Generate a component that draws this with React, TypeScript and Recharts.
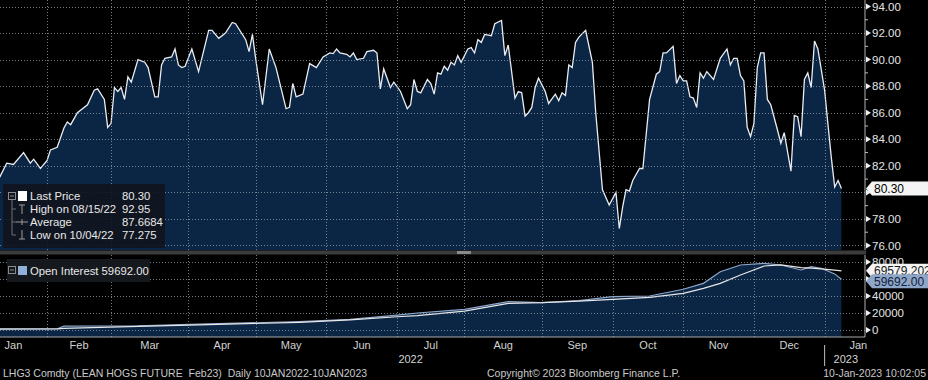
import React from "react";
import { Area, ComposedChart, Line, ReferenceLine, XAxis, YAxis } from "recharts";

const FONT = '"Liberation Sans", Arial, Helvetica, sans-serif';
const W = 928;
const AXIS_W = 63;

// trading-day index (0 = 10 Jan 2022) and LHG3 price
const priceDays = [
  0, 3, 5, 8, 10, 11, 13, 15, 16, 18, 20, 21, 22, 24, 27, 29, 30, 32, 33, 34, 35, 36, 37, 38, 39, 40,
  42, 44, 45, 47, 48, 49, 50, 52, 53, 54, 55, 56, 58, 60, 63, 64, 66, 68, 70, 71, 74, 75, 76, 77, 79,
  81, 83, 86, 87, 88, 89, 91, 93, 95, 97, 99, 100, 101, 102, 104, 105, 106, 107, 109, 110, 112, 113,
  114, 115, 117, 118, 120, 122, 123, 124, 125, 126, 128, 129, 130, 131, 132, 133, 134, 135, 136, 137,
  138, 140, 141, 142, 143, 144, 145, 147, 148, 150, 151, 152, 154, 155, 156, 157, 158, 159, 160, 161,
  163, 164, 166, 167, 168, 169, 170, 171, 172, 173, 175, 177, 178, 180, 182, 184, 185, 186, 187, 188,
  189, 191, 192, 193, 194, 196, 197, 198, 199, 201, 202, 203, 204, 205, 206, 207, 208, 209, 210, 211,
  213, 215, 217, 218, 219, 220, 221, 222, 223, 224, 225, 226, 227, 228, 229, 230, 232, 233, 234, 236,
  237, 238, 239, 240, 241, 242, 243, 244, 246, 247, 248, 249, 250, 251,
];
const priceValues = [
  80.7, 82.2, 82.1, 83.0, 82.2, 82.5, 81.8, 82.4, 83.2, 83.4, 84.85, 85.3, 85.1, 86.0, 86.6, 87.7, 87.8,
  87.0, 84.9, 85.2, 87.9, 87.6, 87.9, 87.0, 88.7, 88.3, 90.0, 89.8, 89.4, 87.2, 87.2, 89.6, 90.1, 90.2,
  90.8, 89.6, 89.4, 89.5, 90.8, 89.1, 92.2, 92.2, 91.6, 92.0, 92.8, 92.7, 91.5, 90.6, 91.9, 90.0, 86.6,
  90.8, 89.4, 86.3, 86.4, 88.2, 87.2, 87.4, 89.7, 89.4, 90.2, 90.5, 90.45, 90.8, 90.5, 90.4, 90.2, 90.5,
  90.0, 90.1, 90.6, 90.7, 90.5, 87.8, 89.3, 87.9, 88.3, 87.6, 86.3, 86.6, 88.5, 87.6, 87.5, 88.5, 88.2,
  87.4, 89.0, 88.9, 89.5, 89.2, 89.8, 89.6, 90.3, 89.8, 90.8, 90.9, 90.5, 91.5, 91.3, 91.9, 91.8, 92.7,
  92.95, 90.3, 91.1, 87.1, 87.6, 87.5, 85.75, 86.0, 86.4, 87.9, 88.6, 87.6, 86.7, 87.4, 86.9, 87.5,
  87.3, 89.6, 89.4, 91.3, 91.7, 92.2, 89.8, 86.0, 80.2, 79.05, 80.0, 77.275, 78.9, 80.2, 80.1, 80.9,
  81.8, 81.8, 84.4, 87.0, 88.9, 89.1, 90.5, 90.5, 91.0, 88.2, 88.8, 88.4, 88.4, 87.2, 87.1, 86.4, 89.0,
  88.6, 89.1, 88.5, 90.1, 90.8, 89.6, 90.1, 90.1, 88.8, 88.4, 84.9, 84.2, 85.2, 89.4, 90.5, 90.5, 87.0,
  86.6, 84.7, 83.7, 84.5, 81.6, 85.8, 85.7, 84.2, 88.5, 89.0, 87.9, 91.4, 90.8, 87.7, 85.1, 82.6, 80.4,
  80.9, 80.3,
];

// open interest and its moving average
const oiDays = [0, 18, 20, 42, 60, 90, 105, 119, 125, 139, 152, 162, 173, 183, 194, 204, 210, 215, 221, 228, 233, 239, 242, 245, 249, 251];
const openInterest = [
  1500, 1500, 4600, 5000, 7000, 9800, 12500, 17600, 20000, 24300, 33300, 32100, 34500, 39200, 40000,
  47900, 54900, 68600, 76500, 78400, 76500, 70600, 74500, 72600, 66000, 59692,
];
const openInterestAvg = [
  1000, 1300, 2000, 4200, 6000, 9000, 11800, 15600, 17000, 22300, 31400, 32100, 34000, 36100, 38400,
  43100, 49000, 54900, 64700, 75300, 76500, 73300, 72800, 72000, 70500, 69579.2021,
];

const monthNames = ["Jan", "Feb", "Mar", "Apr", "May", "Jun", "Jul", "Aug", "Sep", "Oct", "Nov", "Dec", "Jan"];
// first trading day of each month (-5 = 3 Jan 2022, 266 = 1 Feb 2023)
const monthStarts = [-5, 15, 34, 57, 77, 98, 119, 139, 162, 183, 204, 225, 246, 266];
const yearNames = ["2022", "2023"];
const yearAt = [123, 246];

const priceTicks = [76, 77, 78, 79, 80, 81, 82, 83, 84, 85, 86, 87, 88, 89, 90, 91, 92, 93, 94];
const priceGrid = [76, 78, 80, 82, 84, 86, 88, 90, 92, 94];
const oiTicks = [0, 20000, 40000, 60000, 80000];

const lastPrice = 80.3;
const highPrice = 92.95;
const highDate = "08/15/22";
const avgPrice = 87.6684;
const lowPrice = 77.275;
const lowDate = "10/04/22";
const lastOI = 59692;
const lastOIAvg = 69579.2021;

const DAY_DOMAIN = [1, 258];
const PRICE_DOMAIN = [75.66, 94.49];
const OI_DOMAIN = [-8235, 88235];

const priceData = priceDays.map((day, i) => ({ day, price: priceValues[i] }));
const oiData = oiDays.map((day, i) => ({ day, oi: openInterest[i], avg: openInterestAvg[i] }));
const monthMids = monthNames.map((_, i) => (monthStarts[i] + monthStarts[i + 1]) / 2);
const innerMonthStarts = monthStarts.slice(1, -1);

// value flags go last so they sit on top of the tick labels
const priceAxisTicks = [...priceTicks, lastPrice];
const oiAxisTicks = [...oiTicks, lastOIAvg, lastOI];

const NAVY = "#0b2545";

// dotted grid line drawn from the reference line's own viewBox
function GridMark({ viewBox }: any) {
  if (!viewBox) return null;
  const { x, y, width, height } = viewBox;
  const px = Math.round(x) + 0.5;
  const py = Math.round(y) + 0.5;
  const horizontal = !height;
  return (
    <line
      x1={horizontal ? x : px}
      x2={horizontal ? x + width : px}
      y1={horizontal ? py : y}
      y2={horizontal ? py : y + height}
      stroke="#9aa3ad"
      strokeOpacity={0.75}
      strokeWidth={1}
      strokeDasharray="1 2"
    />
  );
}

function gridLines(yValues: number[]) {
  return [
    ...yValues.map((v) => <ReferenceLine key={`h${v}`} y={v} stroke="none" label={<GridMark />} />),
    ...innerMonthStarts.map((d) => <ReferenceLine key={`v${d}`} x={d} stroke="none" label={<GridMark />} />),
  ];
}

function Flag({ x, y, text, fill, color }: any) {
  return (
    <g>
      <polygon points={`${x + 1},${y} ${x + 7},${y - 7} ${W},${y - 7} ${W},${y + 7} ${x + 7},${y + 7}`} fill={fill} />
      <text x={x + 9} y={y} dy="0.36em" fill={color} fontSize={12} fontFamily={FONT}>
        {text}
      </text>
    </g>
  );
}

function MajorTick({ x, y, label }: any) {
  return (
    <g>
      <polygon points={`${x + 1},${y - 3} ${x + 6},${y} ${x + 1},${y + 3}`} fill="#f0f0f0" />
      {label && (
        <text x={x + 7} y={y} dy="0.36em" fill="#e4e4e4" fontSize={11.5} fontFamily={FONT}>
          {label}
        </text>
      )}
    </g>
  );
}

function PriceTick({ x, y, payload }: any) {
  const v = payload.value;
  if (v === lastPrice) return <Flag x={x} y={y} text={lastPrice.toFixed(2)} fill="#f4f4f4" color="#000" />;
  if (v % 2 !== 0) return <line x1={x} x2={x + 3} y1={y} y2={y} stroke="#bdbdbd" />;
  const hidden = Math.abs(v - lastPrice) < 0.75;
  return <MajorTick x={x} y={y} label={hidden ? null : v.toFixed(2)} />;
}

function OiTick({ x, y, payload }: any) {
  const v = payload.value;
  if (v === lastOIAvg) return <Flag x={x} y={y} text={String(lastOIAvg)} fill="#f4f4f4" color="#1a1a1a" />;
  if (v === lastOI) return <Flag x={x} y={y + 2} text={lastOI.toFixed(2)} fill="#8ea6c8" color="#12223a" />;
  const hidden = Math.abs(v - lastOI) < 3000;
  return <MajorTick x={x} y={y} label={hidden ? null : String(v)} />;
}

function MonthTick({ x, y, index }: any) {
  return (
    <text x={x} y={y + 12} textAnchor="middle" fill="#d2d2d2" fontSize={11} fontFamily={FONT}>
      {monthNames[index]}
    </text>
  );
}

function YearMark({ viewBox, text, divider }: any) {
  const base = viewBox.y + viewBox.height;
  return (
    <g>
      {divider && <line x1={viewBox.x} x2={viewBox.x} y1={base + 8} y2={base + 29} stroke="#bdbdbd" />}
      <text
        x={divider ? viewBox.x + 9 : viewBox.x}
        y={base + 26}
        textAnchor={divider ? "start" : "middle"}
        fill="#d2d2d2"
        fontSize={11}
        fontFamily={FONT}
      >
        {text}
      </text>
    </g>
  );
}

function CollapseIcon({ x, y }: { x: number; y: number }) {
  return (
    <g>
      <rect x={x - 3.5} y={y - 3.5} width={7} height={7} fill="none" stroke="#8a8a8a" />
      <line x1={x - 2} x2={x + 2} y1={y} y2={y} stroke="#8a8a8a" />
    </g>
  );
}

function Overlay() {
  const rows = [
    { label: "Last Price", value: lastPrice.toFixed(2) },
    { label: `High on ${highDate}`, value: String(highPrice) },
    { label: "Average", value: String(avgPrice) },
    { label: `Low on ${lowDate}`, value: String(lowPrice) },
  ];
  const rowY = [196, 209, 222, 235];
  return (
    <svg width={W} height={380} style={{ position: "absolute", left: 0, top: 0, pointerEvents: "none" }}>
      {/* panel separator */}
      <rect x={0} y={250.5} width={866} height={4} fill="#3c3c3c" />
      <rect x={457} y={251} width={14} height={3} fill="#8a8a8a" />

      {/* price legend */}
      <rect x={3} y={184} width={162} height={64} fill="rgba(17,21,29,0.9)" />
      <CollapseIcon x={12} y={196} />
      <line x1={12} x2={12} y1={200} y2={235} stroke="#6f6f6f" />
      {[209, 222, 235].map((y) => (
        <line key={y} x1={12} x2={16} y1={y} y2={y} stroke="#6f6f6f" />
      ))}
      <rect x={18} y={191} width={9} height={10} fill="#ffffff" />
      <g stroke="#9a9a9a">
        <line x1={19} x2={25} y1={205} y2={205} />
        <line x1={22} x2={22} y1={205} y2={214} />
        <line x1={16} x2={28} y1={222} y2={222} />
        <line x1={22} x2={22} y1={219} y2={225} />
        <line x1={22} x2={22} y1={230} y2={239} />
        <line x1={19} x2={25} y1={239} y2={239} />
      </g>
      {rows.map((r, i) => (
        <g key={r.label} fontFamily={FONT} fontSize={11.3} fill="#e8e8e8">
          <text x={30} y={rowY[i]} dy="0.36em">{r.label}</text>
          <text x={122} y={rowY[i]} dy="0.36em">{r.value}</text>
        </g>
      ))}

      {/* open interest legend */}
      <rect x={7} y={259} width={143} height={23} fill="#15181d" />
      <CollapseIcon x={12} y={270} />
      <rect x={18} y={266} width={9} height={9} fill="#8fb0d8" />
      <text x={30} y={271} dy="0.36em" fontFamily={FONT} fontSize={11.3} fill="#e8e8e8">
        {`Open Interest ${lastOI.toFixed(2)}`}
      </text>

      {/* footer */}
      <g fontFamily={FONT} fontSize={10.5} fill="#c9c9c9">
        <text x={3} y={377} style={{ whiteSpace: "pre" }}>
          {"LHG3 Comdty (LEAN HOGS FUTURE  Feb23)  Daily 10JAN2022-10JAN2023"}
        </text>
        <text x={487} y={377}>Copyright© 2023 Bloomberg Finance L.P.</text>
        <text x={926} y={377} textAnchor="end">10-Jan-2023 10:02:05</text>
      </g>
    </svg>
  );
}

export default function App() {
  return (
    <div style={{ position: "fixed", left: 0, top: 0, width: W, height: 380, background: "#000", overflow: "hidden" }}>
      <div style={{ position: "absolute", left: 0, top: 0 }}>
        <ComposedChart width={W} height={253} data={priceData} margin={{ top: 0, right: 0, bottom: 3, left: 0 }}>
          <XAxis dataKey="day" type="number" domain={DAY_DOMAIN} allowDataOverflow hide />
          <YAxis
            orientation="right"
            type="number"
            width={AXIS_W}
            domain={PRICE_DOMAIN}
            allowDataOverflow
            ticks={priceAxisTicks}
            interval={0}
            tickSize={0}
            tickMargin={0}
            tickLine={false}
            axisLine={{ stroke: "#b0b0b0" }}
            tick={<PriceTick />}
          />
          <Area
            type="linear"
            dataKey="price"
            stroke="#e9edf3"
            strokeWidth={1.3}
            fill={NAVY}
            fillOpacity={1}
            dot={false}
            activeDot={false}
            isAnimationActive={false}
          />
          {gridLines(priceGrid)}
        </ComposedChart>
      </div>

      <div style={{ position: "absolute", left: 0, top: 255 }}>
        <ComposedChart width={W} height={112} data={oiData} margin={{ top: 0, right: 0, bottom: 0, left: 0 }}>
          <XAxis
            dataKey="day"
            type="number"
            domain={DAY_DOMAIN}
            allowDataOverflow
            ticks={monthMids}
            interval={0}
            height={30}
            tickSize={0}
            tickMargin={0}
            tickLine={false}
            axisLine={{ stroke: "#a8a8a8" }}
            tick={<MonthTick />}
          />
          <YAxis
            orientation="right"
            type="number"
            width={AXIS_W}
            domain={OI_DOMAIN}
            allowDataOverflow
            ticks={oiAxisTicks}
            interval={0}
            tickSize={0}
            tickMargin={0}
            tickLine={false}
            axisLine={{ stroke: "#b0b0b0" }}
            tick={<OiTick />}
          />
          <Area
            type="linear"
            dataKey="oi"
            baseValue="dataMin"
            stroke="#8ea6c8"
            strokeWidth={1.2}
            fill={NAVY}
            fillOpacity={1}
            dot={false}
            activeDot={false}
            isAnimationActive={false}
          />
          <Line
            type="linear"
            dataKey="avg"
            stroke="#e6e6e6"
            strokeWidth={1.2}
            dot={false}
            activeDot={false}
            isAnimationActive={false}
          />
          {gridLines(oiTicks)}
          {yearNames.map((name, i) => (
            <ReferenceLine key={name} x={yearAt[i]} stroke="none" label={<YearMark text={name} divider={i > 0} />} />
          ))}
        </ComposedChart>
      </div>

      <Overlay />
    </div>
  );
}
